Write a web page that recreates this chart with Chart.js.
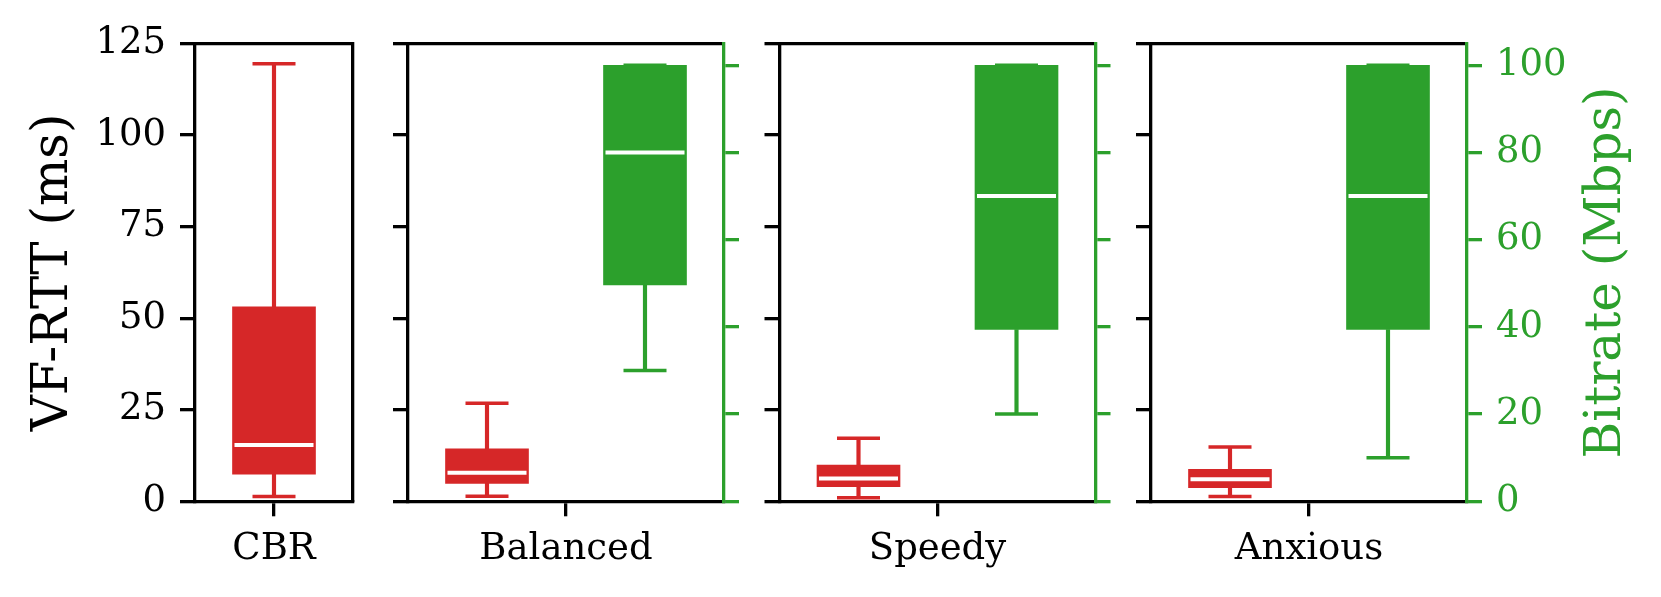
<!DOCTYPE html>
<html>
<head>
<meta charset="utf-8">
<script src="https://cdn.jsdelivr.net/npm/chart.js@4.4.1/dist/chart.umd.min.js"></script>
<style>
  body { margin: 0; background: #fff; }
  #wrap { position: relative; width: 1661px; height: 597px; }
  #wrap canvas { position: absolute; left: 0; top: 0; }
</style>
</head>
<body>
<div id="wrap">
  <canvas id="p0" width="1661" height="597"></canvas>
  <canvas id="p1" width="1661" height="597"></canvas>
  <canvas id="p2" width="1661" height="597"></canvas>
  <canvas id="p3" width="1661" height="597"></canvas>
</div>
<script>
// Data: five-number summaries
const categories = ["CBR", "Balanced", "Speedy", "Anxious"];

const rttMin    = [1.3, 1.4, 1.0, 1.3];
const rttQ1     = [7.4, 4.9, 4.0, 3.7];
const rttMedian = [15.4, 7.8, 6.2, 6.0];
const rttQ3     = [53.1, 14.3, 9.9, 8.7];
const rttMax    = [119.5, 26.8, 17.2, 14.8];

const bitrateMin    = [null, 30, 20, 10];
const bitrateQ1     = [null, 49.6, 39.4, 39.4];
const bitrateMedian = [null, 80, 70, 70];
const bitrateQ3     = [null, 100, 100, 100];
const bitrateMax    = [null, 100, 100, 100];

const rttTicks = [0, 25, 50, 75, 100, 125];
const bitrateTicks = [0, 20, 40, 60, 80, 100];

// Layout
const W = 1661, H = 597;
const plotTop = 43.3, plotBottom = 501.3;
const panels = [
  { left: 195, right: 353 },
  { left: 408, right: 724 },
  { left: 779.5, right: 1095.5 },
  { left: 1151, right: 1467 }
];
const RED = "#d62728";
const GREEN = "#2ca02c";
const LW = 3.3;
const tickFont = { family: "DejaVu Serif", size: 37 };
const titleFont = { family: "DejaVu Serif", size: 50 };

Chart.defaults.font.family = "DejaVu Serif";

function zeroPad(s) {
  s.paddingLeft = s.paddingRight = s.paddingTop = s.paddingBottom = 0;
}

// one box (whiskers, box, caps, median) as Chart.js datasets
function boxDatasets(x, lo, q1, med, q3, hi, color, axis) {
  return [
    { type: "scatter", yAxisID: axis, order: 0, clip: false,
      data: [{ x: x, y: med }],
      pointStyle: "line", pointRadius: 39.5, pointHoverRadius: 39.5,
      pointBorderWidth: 4, pointBorderColor: "#fff", pointBackgroundColor: "#fff" },
    { type: "scatter", yAxisID: axis, order: 1, clip: false,
      data: [{ x: x, y: lo }, { x: x, y: hi }],
      pointStyle: "line", pointRadius: 21.5, pointHoverRadius: 21.5,
      pointBorderWidth: 3.5, pointBorderColor: color, pointBackgroundColor: color },
    { type: "bar", yAxisID: axis, order: 2, grouped: false,
      data: [{ x: x, y: [q1, q3] }],
      backgroundColor: color, borderWidth: 0, barThickness: 83 },
    { type: "bar", yAxisID: axis, order: 3, grouped: false,
      data: [{ x: x, y: [lo, q1] }, { x: x, y: [q3, hi] }],
      backgroundColor: color, borderWidth: 0, barThickness: 3.5 }
  ];
}

const rightTitle = {
  id: "rightTitle",
  afterDraw(chart) {
    const ctx = chart.ctx;
    const a = chart.chartArea;
    ctx.save();
    ctx.translate(a.right + 140, (a.top + a.bottom) / 2);
    ctx.rotate(-Math.PI / 2);
    ctx.font = titleFont.size + "px " + titleFont.family;
    ctx.fillStyle = GREEN;
    ctx.textAlign = "center";
    ctx.textBaseline = "middle";
    ctx.fillText("Bitrate (Mbps)", 0, 0);
    ctx.restore();
  }
};

function buildPanel(i) {
  const p = panels[i];
  const hasBitrate = bitrateMedian[i] !== null;
  let datasets = boxDatasets(0, rttMin[i], rttQ1[i], rttMedian[i], rttQ3[i], rttMax[i], RED, "y");
  if (hasBitrate) {
    datasets = datasets.concat(boxDatasets(1, bitrateMin[i], bitrateQ1[i], bitrateMedian[i],
      bitrateQ3[i], bitrateMax[i], GREEN, "y2"));
  }
  const xMin = -0.5, xMax = hasBitrate ? 1.5 : 0.5;
  const center = (xMin + xMax) / 2;

  const scales = {
    x: {
      type: "linear", position: "bottom", min: xMin, max: xMax, offset: false,
      afterBuildTicks: s => { s.ticks = [{ value: center }]; },
      ticks: { callback: () => categories[i], font: tickFont, color: "#000",
               padding: 11, maxRotation: 0, autoSkip: false },
      grid: { drawOnChartArea: false, offset: false, tickLength: 15, lineWidth: LW, color: "#000" },
      border: { color: "#000", width: LW },
      afterFit: s => { s.height = H - plotBottom; zeroPad(s); }
    },
    xt: {
      type: "linear", position: "top", display: true,
      ticks: { display: false },
      grid: { display: false, drawTicks: false },
      border: { color: "#000", width: LW },
      afterFit: s => { s.height = 0; zeroPad(s); }
    },
    y: {
      type: "linear", position: "left", min: 0, max: 125,
      afterBuildTicks: s => { s.ticks = rttTicks.map(v => ({ value: v })); },
      ticks: { display: i === 0, font: tickFont, color: "#000", padding: 14 },
      grid: { drawOnChartArea: false, tickLength: 15, lineWidth: LW, color: "#000" },
      border: { color: "#000", width: LW },
      title: { display: i === 0, text: "VF-RTT (ms)", font: titleFont, color: "#000",
               padding: { top: 24, bottom: 0 } },
      afterFit: s => { s.width = p.left; zeroPad(s); }
    }
  };

  if (hasBitrate) {
    scales.y2 = {
      type: "linear", position: "right", min: 0, max: 105,
      afterBuildTicks: s => { s.ticks = bitrateTicks.map(v => ({ value: v })); },
      ticks: { display: i === 3, font: tickFont, color: GREEN, padding: 14 },
      grid: { drawOnChartArea: false, tickLength: 15, lineWidth: LW, color: GREEN },
      border: { color: GREEN, width: LW },
      afterFit: s => { s.width = W - p.right; zeroPad(s); }
    };
  } else {
    scales.yr = {
      type: "linear", position: "right", display: true,
      ticks: { display: false },
      grid: { display: false, drawTicks: false },
      border: { color: "#000", width: LW },
      afterFit: s => { s.width = W - p.right; zeroPad(s); }
    };
  }

  return new Chart(document.getElementById("p" + i), {
    type: "bar",
    data: { datasets },
    options: {
      responsive: false,
      animation: false,
      events: [],
      layout: { padding: { top: plotTop, left: 0, right: 0, bottom: 0 } },
      plugins: { legend: { display: false }, tooltip: { enabled: false } },
      scales
    },
    plugins: i === 3 ? [rightTitle] : []
  });
}

categories.forEach((c, i) => buildPanel(i));
</script>
</body>
</html>
